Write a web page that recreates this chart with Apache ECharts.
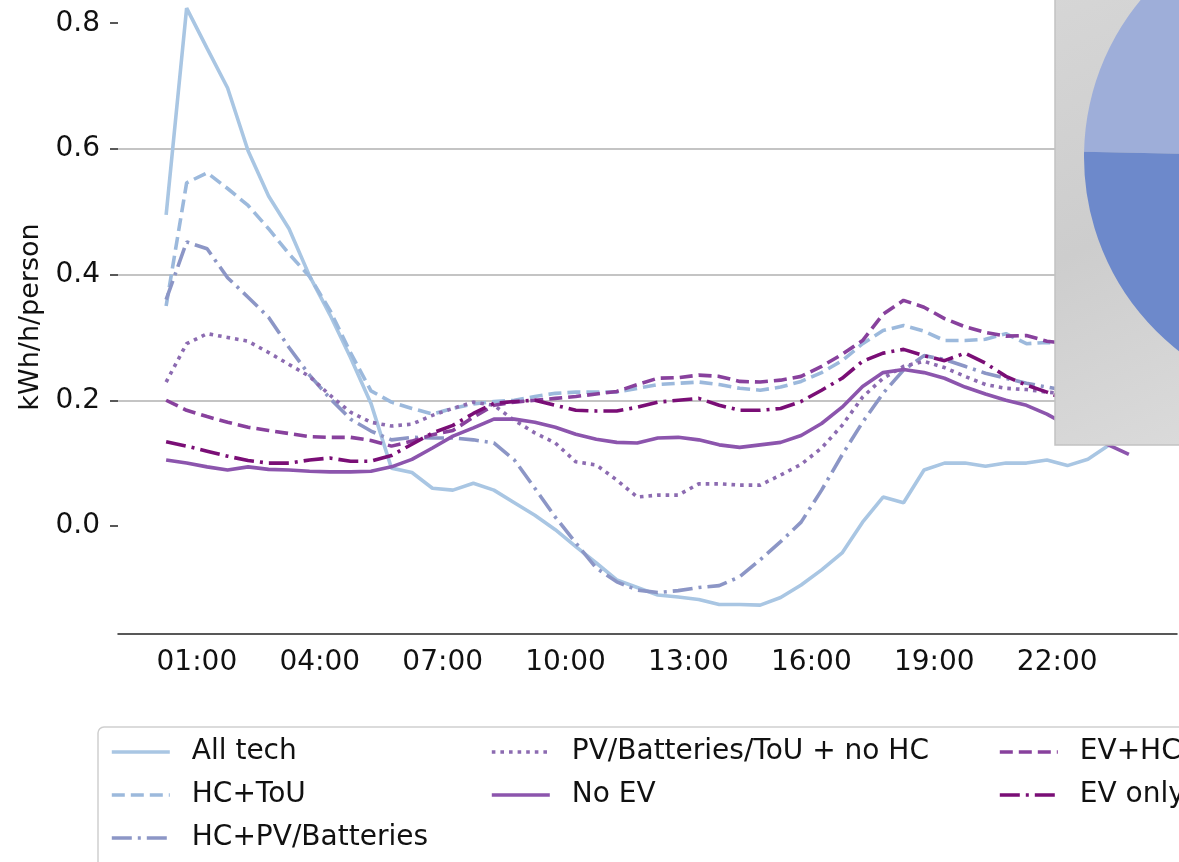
<!DOCTYPE html>
<html>
<head>
<meta charset="utf-8">
<script src="https://cdn.jsdelivr.net/npm/echarts@6.0.0/dist/echarts.min.js"></script>
<style>
  html, body { margin: 0; padding: 0; background: #fff; }
  #main { width: 1179px; height: 862px; }
</style>
</head>
<body>
<div id="main"></div>
<script>
// half-hour time stamps (hours)
var hours = [0.25, 0.75, 1.25, 1.75, 2.25, 2.75, 3.25, 3.75, 4.25, 4.75, 5.25, 5.75,
  6.25, 6.75, 7.25, 7.75, 8.25, 8.75, 9.25, 9.75, 10.25, 10.75, 11.25, 11.75,
  12.25, 12.75, 13.25, 13.75, 14.25, 14.75, 15.25, 15.75, 16.25, 16.75, 17.25, 17.75,
  18.25, 18.75, 19.25, 19.75, 20.25, 20.75, 21.25, 21.75, 22.25, 22.75, 23.25, 23.75];

var allTech = [0.495, 0.824, 0.76, 0.697, 0.597, 0.525, 0.473, 0.398, 0.336, 0.268, 0.195, 0.092,
  0.085, 0.06, 0.057, 0.068, 0.057, 0.037, 0.017, -0.006, -0.033, -0.059, -0.086, -0.098,
  -0.11, -0.113, -0.117, -0.125, -0.125, -0.126, -0.114, -0.094, -0.07, -0.043, 0.006, 0.046,
  0.037, 0.089, 0.1, 0.1, 0.095, 0.1, 0.1, 0.105, 0.096, 0.106, 0.128, 0.16];
var hcTou = [0.35, 0.546, 0.562, 0.537, 0.51, 0.473, 0.433, 0.397, 0.343, 0.276, 0.215, 0.197,
  0.187, 0.178, 0.187, 0.194, 0.198, 0.2, 0.206, 0.211, 0.213, 0.213, 0.213, 0.219,
  0.225, 0.227, 0.229, 0.225, 0.219, 0.216, 0.221, 0.23, 0.244, 0.263, 0.29, 0.311,
  0.319, 0.31, 0.295, 0.295, 0.297, 0.306, 0.29, 0.292, 0.29, 0.285, 0.28, 0.275];
var hcPv = [0.36, 0.452, 0.441, 0.395, 0.364, 0.332, 0.284, 0.24, 0.203, 0.17, 0.151, 0.137,
  0.141, 0.14, 0.14, 0.137, 0.132, 0.105, 0.06, 0.014, -0.027, -0.067, -0.089, -0.102,
  -0.106, -0.103, -0.098, -0.095, -0.081, -0.054, -0.025, 0.006, 0.057, 0.113, 0.165, 0.211,
  0.248, 0.271, 0.265, 0.254, 0.243, 0.235, 0.227, 0.221, 0.215, 0.21, 0.205, 0.2];
var pvBatTou = [0.229, 0.29, 0.306, 0.3, 0.294, 0.276, 0.257, 0.238, 0.208, 0.181, 0.165, 0.159,
  0.162, 0.176, 0.187, 0.197, 0.192, 0.168, 0.148, 0.132, 0.102, 0.097, 0.073, 0.046,
  0.049, 0.049, 0.067, 0.067, 0.065, 0.065, 0.081, 0.098, 0.124, 0.16, 0.205, 0.235,
  0.254, 0.262, 0.252, 0.238, 0.225, 0.219, 0.217, 0.213, 0.21, 0.205, 0.2, 0.195];
var noEv = [0.105, 0.1, 0.094, 0.089, 0.094, 0.09, 0.089, 0.087, 0.086, 0.086, 0.087, 0.094,
  0.106, 0.124, 0.143, 0.156, 0.17, 0.17, 0.165, 0.157, 0.146, 0.138, 0.133, 0.132,
  0.14, 0.141, 0.137, 0.129, 0.125, 0.129, 0.133, 0.144, 0.163, 0.189, 0.222, 0.244,
  0.249, 0.244, 0.235, 0.221, 0.21, 0.2, 0.192, 0.178, 0.16, 0.145, 0.129, 0.114];
var evHc = [0.2, 0.184, 0.174, 0.165, 0.157, 0.152, 0.147, 0.142, 0.141, 0.141, 0.136, 0.127,
  0.135, 0.145, 0.152, 0.173, 0.192, 0.197, 0.2, 0.203, 0.206, 0.21, 0.214, 0.225,
  0.235, 0.236, 0.24, 0.238, 0.23, 0.229, 0.232, 0.238, 0.254, 0.273, 0.295, 0.337,
  0.359, 0.348, 0.33, 0.317, 0.308, 0.302, 0.303, 0.294, 0.29, 0.285, 0.28, 0.275];
var evOnly = [0.134, 0.127, 0.119, 0.111, 0.104, 0.1, 0.1, 0.105, 0.108, 0.103, 0.103, 0.112,
  0.13, 0.148, 0.16, 0.179, 0.195, 0.198, 0.2, 0.192, 0.184, 0.183, 0.183, 0.189,
  0.197, 0.2, 0.203, 0.192, 0.184, 0.184, 0.187, 0.198, 0.216, 0.235, 0.262, 0.275,
  0.281, 0.271, 0.263, 0.275, 0.259, 0.238, 0.224, 0.213, 0.2, 0.19, 0.18, 0.17];

var xTicks = [1, 4, 7, 10, 13, 16, 19, 22];
var yTicks = [0, 0.2, 0.4, 0.6, 0.8];

// inset pie (only the left part is visible)
var pieNames = ['A', 'B'];
var pieShares = [45, 55];

var FONT = 'DejaVu Sans';

function pairs(vals) {
  var out = [];
  for (var i = 0; i < vals.length; i++) out.push([hours[i], vals[i]]);
  return out;
}

function lineSeries(name, vals, color, type) {
  return {
    name: name,
    type: 'line',
    data: pairs(vals),
    symbol: 'none',
    smooth: false,
    z: 2,
    lineStyle: { color: color, width: 3.6, type: type, cap: 'butt' },
    itemStyle: { color: color },
    emphasis: { disabled: true }
  };
}

function legendCol(names, left) {
  return {
    orient: 'vertical',
    left: left,
    top: 733,
    itemWidth: 58,
    itemHeight: 14,
    itemGap: 15,
    selectedMode: false,
    data: names,
    itemStyle: { opacity: 0 },
    lineStyle: { width: 3.6 },
    textStyle: { fontFamily: FONT, fontSize: 28, color: '#111', padding: [0, 0, 0, 17] }
  };
}

var chart = echarts.init(document.getElementById('main'));

chart.setOption({
  backgroundColor: '#ffffff',
  animation: false,
  grid: { left: 118, right: 2, top: -2, bottom: 228 },
  xAxis: {
    type: 'value',
    min: -0.925,
    max: 24.925,
    axisLine: { show: true, onZero: false, lineStyle: { color: '#222', width: 1.5 } },
    axisTick: { show: false, customValues: xTicks },
    splitLine: { show: false },
    axisLabel: {
      customValues: xTicks,
      margin: 15,
      fontFamily: FONT,
      fontSize: 28,
      color: '#111',
      formatter: function (v) { return (v < 10 ? '0' : '') + v + ':00'; }
    }
  },
  yAxis: {
    type: 'value',
    min: -0.172,
    max: 0.837,
    name: 'kWh/h/person',
    nameLocation: 'middle',
    nameGap: 55,
    nameTextStyle: { fontFamily: FONT, fontSize: 27, color: '#111', padding: [0, 0, 12, 0] },
    axisLine: { show: false, onZero: false },
    axisTick: { show: true, length: 8, customValues: yTicks, lineStyle: { color: '#222', width: 1.5 } },
    axisLabel: {
      customValues: yTicks,
      margin: 18,
      fontFamily: FONT,
      fontSize: 28,
      color: '#111',
      formatter: function (v) { return v.toFixed(1); }
    },
    splitLine: { show: true, showMinLine: false, showMaxLine: false, lineStyle: { color: '#b0b0b0', width: 1.5 } }
  },
  legend: [
    legendCol(['All tech', 'HC+ToU', 'HC+PV/Batteries'], 105),
    legendCol(['PV/Batteries/ToU + no HC', 'No EV'], 485),
    legendCol(['EV+HC', 'EV only'], 993)
  ],
  graphic: [
    // legend frame
    {
      type: 'rect', z: 1, silent: true,
      shape: { x: 98, y: 727, width: 1200, height: 200, r: 6 },
      style: { fill: '#ffffff', stroke: '#cfcfcf', lineWidth: 1.5 }
    },
    // inset background
    {
      type: 'rect', z: 10, silent: true,
      shape: { x: 1055, y: -10, width: 200, height: 455 },
      style: {
        fill: new echarts.graphic.LinearGradient(0, 0, 1, 1, [
          { offset: 0, color: '#d6d6d6' },
          { offset: 0.5, color: '#cdcdcd' },
          { offset: 1, color: '#dcdcdc' }
        ]),
        stroke: '#c2c2c2', lineWidth: 1.5
      }
    }
  ],
  series: [
    lineSeries('All tech', allTech, '#a9c6e3', 'solid'),
    lineSeries('HC+ToU', hcTou, '#9cb9dc', [13, 6]),
    lineSeries('HC+PV/Batteries', hcPv, '#8c96c6', [20, 6, 3, 6]),
    lineSeries('PV/Batteries/ToU + no HC', pvBatTou, '#8c6bb1', [3.6, 5]),
    lineSeries('No EV', noEv, '#8c55ad', 'solid'),
    lineSeries('EV+HC', evHc, '#88419d', [13, 6]),
    lineSeries('EV only', evOnly, '#7a0e76', [20, 6, 3, 6]),
    {
      type: 'pie',
      z: 20,
      silent: true,
      center: [1330, 157],
      radius: 246,
      startAngle: 178.8,
      clockwise: true,
      label: { show: false },
      labelLine: { show: false },
      data: [
        { name: pieNames[0], value: pieShares[0], itemStyle: { color: '#9eaed9' } },
        { name: pieNames[1], value: pieShares[1], itemStyle: { color: '#6d89cb' } }
      ]
    }
  ]
});
</script>
</body>
</html>
